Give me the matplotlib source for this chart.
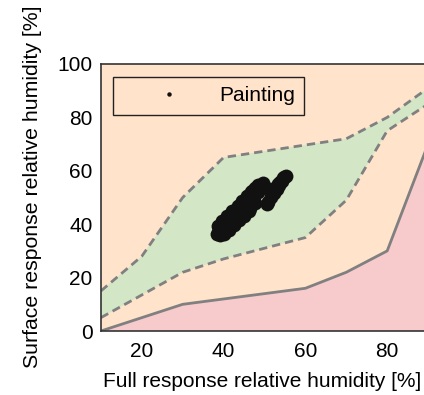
import matplotlib
matplotlib.use("Agg")
import matplotlib.pyplot as plt
import numpy as np

plt.rcParams['font.family'] = ['Liberation Sans', 'DejaVu Sans']

# Boundary lines (x, y)
solid_x = [10, 30, 60, 70, 80, 90]
solid_y = [0, 10, 16, 22, 30, 70]
upper_x = [10, 20, 30, 40, 70, 80, 90]
upper_y = [15, 28, 50, 65, 72, 80, 91]
lower_x = [10, 30, 40, 60, 70, 80, 90]
lower_y = [5, 22, 27, 35, 49, 75, 85]

# Painting measurements
paint_x = [38.3, 38.8, 39.5, 39.8, 40.5, 40.8, 41.5, 41.7, 42.3, 42.5, 43.2, 43.5,
           44.0, 44.3, 45.0, 45.2, 45.8, 46.0, 46.6, 46.8, 47.4, 47.6, 48.3, 48.5,
           49.3, 49.6, 50.0, 39.0, 40.0, 41.0, 42.0, 43.0, 44.0, 45.0, 46.0, 47.0,
           39.2, 40.4, 41.6, 42.8, 44.0, 45.2, 46.4, 47.6, 38.6, 39.6, 40.8, 42.0,
           43.4, 44.6, 45.8, 47.0, 48.2, 40.2, 41.4, 42.6, 43.8, 45.0, 46.2,
           50.8, 51.5, 52.3, 53.0, 53.6, 54.2, 54.8, 55.2, 51.8, 52.8, 53.8, 50.6,
           52.2, 53.4, 54.6]
paint_y = [36.5, 38.5, 37.2, 39.8, 38.5, 41.2, 40.0, 42.8, 41.5, 44.5, 43.0, 46.0,
           44.5, 47.5, 46.0, 49.0, 47.5, 50.5, 49.0, 52.0, 50.5, 53.5, 52.0, 54.5,
           53.5, 55.5, 54.0, 38.0, 39.5, 41.0, 43.0, 44.5, 46.0, 47.5, 49.0, 51.0,
           36.0, 37.5, 39.2, 40.8, 42.6, 44.4, 46.2, 48.0, 39.5, 41.3, 43.2, 45.0,
           47.0, 48.6, 50.4, 52.5, 54.0, 36.2, 38.0, 39.6, 41.4, 43.2, 45.0,
           48.5, 50.0, 51.5, 53.0, 54.5, 56.0, 57.5, 58.0, 51.8, 53.8, 55.8, 47.5,
           52.5, 55.0, 57.2]

xticks = [20, 40, 60, 80]
yticks = [0, 20, 40, 60, 80, 100]

fig = plt.figure(figsize=(4.24, 3.95), dpi=100)
ax = fig.add_axes([0.238, 0.162, 0.762, 0.676])
ax.set_facecolor('#FFE3CA')

# pink region below solid line
ax.fill(solid_x + [solid_x[-1], solid_x[0]], solid_y + [0, 0],
        color='#F7CACC', lw=0, zorder=1)
# green region between dashed lines
ax.fill(upper_x + lower_x[::-1], upper_y + lower_y[::-1],
        color='#D3E6C6', lw=0, zorder=1)

ax.plot(solid_x, solid_y, color='#808080', lw=2, zorder=2)
ax.plot(upper_x, upper_y, color='#808080', lw=2, ls=(0, (3, 1.8)), zorder=2)
ax.plot(lower_x, lower_y, color='#808080', lw=2, ls=(0, (3, 1.8)), zorder=2)

ax.plot(paint_x, paint_y, 'o', color='#111111', ms=10, mew=0, zorder=3,
        label='Painting')

ax.set_xlim(10, 89)
ax.set_ylim(0, 100)
ax.set_xticks(xticks)
ax.set_yticks(yticks)
ax.tick_params(length=0, labelsize=15, pad=8)
ax.tick_params(axis='y', pad=6)
for s in ['left', 'bottom', 'top']:
    ax.spines[s].set_color('#333333')
    ax.spines[s].set_linewidth(1.2)
ax.spines['right'].set_visible(False)

ax.set_xlabel('Full response relative humidity [%]', fontsize=15, labelpad=8)
ax.set_ylabel('Surface response relative humidity [%]', fontsize=15.3)
ax.yaxis.set_label_coords(-0.183, 0.54)

leg = ax.legend(loc='upper left', bbox_to_anchor=(0.037, 0.951), fontsize=15,
                markerscale=0.32, handlelength=4.5, handletextpad=0.15,
                borderpad=0.45, borderaxespad=0, fancybox=False, framealpha=1,
                facecolor='#FFE3CA', edgecolor='#222222')
leg.get_frame().set_linewidth(1.0)

fig.savefig('out.png', dpi=100)
